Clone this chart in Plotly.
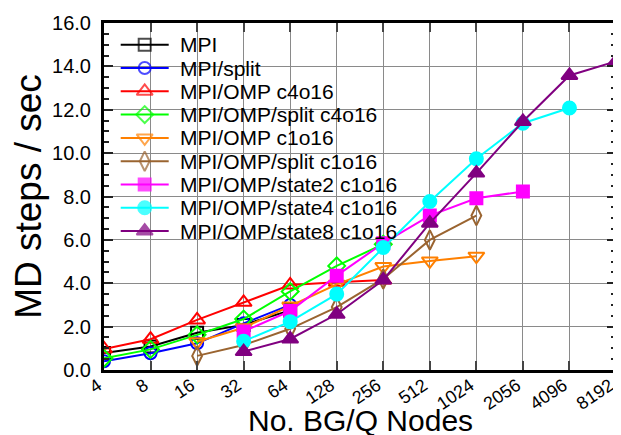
import plotly.graph_objects as go

cats = ["4", "8", "16", "32", "64", "128", "256", "512", "1024", "2056", "4096", "8192"]

names = ["MPI", "MPI/split", "MPI/OMP c4o16", "MPI/OMP/split c4o16", "MPI/OMP c1o16",
         "MPI/OMP/split c1o16", "MPI/OMP/state2 c1o16", "MPI/OMP/state4 c1o16",
         "MPI/OMP/state8 c1o16"]

mpi = [0.78, 1.08, 1.72, 2.08, 2.75]
mpi_split = [0.40, 0.77, 1.23, 2.15, 3.00]
omp_c4o16 = [0.97, 1.42, 2.31, 3.12, 3.92, 4.05, 4.15]
omp_split_c4o16 = [0.54, 0.95, 1.62, 2.35, 3.62, 4.80, 5.80]
omp_c1o16 = [None, None, 1.30, 1.95, 2.95, 3.95, 4.77, 5.03, 5.25]
omp_split_c1o16 = [None, None, 0.65, 1.15, 1.90, 2.90, 4.20, 6.00, 7.12]
state2_c1o16 = [None, None, None, 1.78, 2.72, 4.35, 5.85, 7.12, 7.92, 8.23]
state4_c1o16 = [None, None, None, 1.33, 2.23, 3.50, 5.65, 7.77, 9.74, 11.38, 12.08]
state8_c1o16 = [None, None, None, 0.85, 1.43, 2.57, 4.15, 6.77, 9.08, 11.46, 13.58, 14.23]

series = [mpi, mpi_split, omp_c4o16, omp_split_c4o16, omp_c1o16, omp_split_c1o16,
          state2_c1o16, state4_c1o16, state8_c1o16]
colors = ["#000000", "#0000ff", "#ff0000", "#00ff00", "#ff8000", "#9a6430",
          "#ff00ff", "#00ffff", "#800080"]
symbols = ["square-open", "circle-open", "triangle-up-open", "diamond-open",
           "triangle-down-open", "diamond-tall-open", "square", "circle", "triangle-up"]
sizes = [12, 12, 14, 13, 14, 14, 12, 13, 14]

FONT = "Liberation Sans, Arial, Helvetica, sans-serif"

fig = go.Figure()
for name, vals, c, s, sz in zip(names, series, colors, symbols, sizes):
    fig.add_trace(go.Scatter(
        x=cats[:len(vals)], y=vals, name=name, mode="lines+markers",
        line=dict(color=c, width=2),
        marker=dict(symbol=s, size=sz, color=c, line=dict(color=c, width=2)),
        showlegend=False,
    ))

# custom legend (pixel-based overlay axes)
L, R, T, B = 96, 608, 15, 362
row0, step = 36.7, 23.3
for i, (name, c, s, sz) in enumerate(zip(names, colors, symbols, sizes)):
    yy = row0 + step * i
    fig.add_trace(go.Scatter(
        x=[112.7, 136.7, 160.7], y=[yy, yy, yy], mode="lines+markers",
        xaxis="x2", yaxis="y2", showlegend=False, hoverinfo="skip",
        cliponaxis=False,
        line=dict(color=c, width=2),
        marker=dict(symbol=s, size=[0, sz, 0], color=c, line=dict(color=c, width=2)),
    ))
    fig.add_annotation(x=170, y=yy, xref="x2", yref="y2", text=name, showarrow=False,
                       xanchor="left", yanchor="middle",
                       font=dict(family=FONT, size=21, color="black"))

# x-axis title (paper coordinates)
fig.add_annotation(x=0.5, y=(B - 430) / (B - T), xref="paper", yref="paper",
                   text="No. BG/Q Nodes", showarrow=False,
                   xanchor="center", yanchor="bottom", borderpad=0,
                   font=dict(family=FONT, size=30, color="black"))

fig.update_layout(
    width=621, height=435,
    margin=dict(l=L, r=621 - R, t=T, b=435 - B, autoexpand=False),
    paper_bgcolor="white", plot_bgcolor="white",
    font=dict(family=FONT, color="black"),
    showlegend=False,
    xaxis=dict(
        type="category", categoryorder="array", categoryarray=cats,
        range=[0, len(cats) - 1], tickangle=-34, automargin=False,
        tickfont=dict(size=18, family=FONT),
        ticks="inside", ticklen=9, tickwidth=2, tickcolor="#444",
        showline=True, linecolor="black", linewidth=3, mirror="ticks",
        showgrid=True, gridcolor="#8a8a8a", gridwidth=1,
        ticklabelstandoff=-5, ticklabelshift=-6,
    ),
    yaxis=dict(
        range=[0, 16], dtick=2, tickformat=".1f", automargin=False,
        tickfont=dict(size=20, family=FONT),
        ticks="inside", ticklen=9, tickwidth=2, tickcolor="#222",
        minor=dict(dtick=0.5, ticks="inside", ticklen=5, tickwidth=1.5, tickcolor="#222",
                   showgrid=False),
        showline=True, linecolor="black", linewidth=3, mirror="ticks",
        showgrid=True, gridcolor="#8a8a8a", gridwidth=1, zeroline=False,
        title=dict(text="MD steps / sec", font=dict(size=37, family=FONT), standoff=4),
        ticklabelstandoff=6,
    ),
    xaxis2=dict(overlaying="x", range=[L, R], visible=False, fixedrange=True),
    yaxis2=dict(overlaying="y", range=[B, T], visible=False, fixedrange=True),
)

fig.write_html("out.html")
